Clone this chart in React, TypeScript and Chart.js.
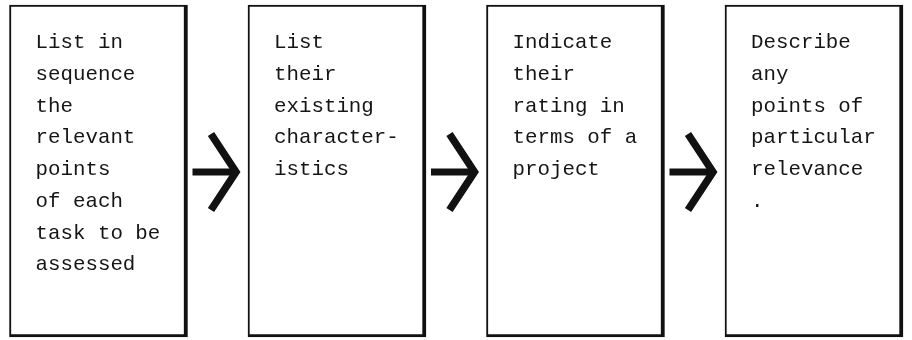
import React, { useEffect, useRef } from "react";
import { Chart, registerables } from "chart.js";

Chart.register(...registerables);

// ---- data ----
const stepIndex = [0, 1, 2, 3];
const boxValues = [1, 1, 1, 1];
const step1Lines = ["List in", "sequence", "the", "relevant", "points", "of each", "task to be", "assessed"];
const step2Lines = ["List", "their", "existing", "character-", "istics"];
const step3Lines = ["Indicate", "their", "rating in", "terms of a", "project"];
const step4Lines = ["Describe", "any", "points of", "particular", "relevance", "."];
const stepTexts = [step1Lines, step2Lines, step3Lines, step4Lines];

const flowPlugin = {
  id: "flowPlugin",
  afterDatasetsDraw(chart: any) {
    const ctx = chart.ctx as CanvasRenderingContext2D;
    const meta = chart.getDatasetMeta(0);
    const els = meta.data as any[];
    ctx.save();
    // arrows between boxes
    for (let i = 0; i < els.length - 1; i++) {
      const a = els[i];
      const b = els[i + 1];
      const r = a.x + a.width / 2;
      const l = b.x - b.width / 2;
      const top = Math.min(a.y, a.base);
      const bot = Math.max(a.y, a.base);
      const y = (top + bot) / 2 + 1;
      const tip = l - 12;
      ctx.strokeStyle = "#111";
      ctx.lineCap = "butt";
      ctx.lineWidth = 7;
      ctx.beginPath();
      ctx.moveTo(r + 5, y);
      ctx.lineTo(tip, y);
      ctx.stroke();
      ctx.lineWidth = 7.5;
      ctx.lineJoin = "miter";
      ctx.beginPath();
      ctx.moveTo(tip - 25, y - 38);
      ctx.lineTo(tip, y);
      ctx.lineTo(tip - 25, y + 38);
      ctx.stroke();
    }
    // texts
    ctx.fillStyle = "#151515";
    ctx.font = "20.8px 'Liberation Mono', 'Courier New', monospace";
    ctx.textBaseline = "alphabetic";
    ctx.textAlign = "left";
    els.forEach((el: any, i: number) => {
      const left = el.x - el.width / 2;
      const top = Math.min(el.y, el.base);
      const lines = stepTexts[i] || [];
      lines.forEach((t, j) => {
        ctx.fillText(t, left + 26, top + 43 + j * 31.75);
      });
    });
    ctx.restore();
  },
};

export default function App() {
  const ref = useRef<HTMLCanvasElement | null>(null);
  useEffect(() => {
    document.body.style.margin = "0";
    if (!ref.current) return;
    const chart = new Chart(ref.current, {
      type: "bar",
      data: {
        datasets: [
          {
            data: stepIndex.map((x, i) => ({ x, y: boxValues[i] })),
            backgroundColor: "#ffffff",
            borderColor: "#111111",
            borderWidth: { top: 2, right: 4, bottom: 3, left: 2 },
            borderSkipped: false,
            barThickness: 178,
            clip: false,
          } as any,
        ],
      },
      options: {
        animation: false,
        responsive: true,
        maintainAspectRatio: false,
        layout: { padding: { top: 5, bottom: 3, left: 0, right: 0 } },
        plugins: { legend: { display: false }, tooltip: { enabled: false } },
        scales: {
          x: { type: "linear", display: false, offset: false, min: -0.413, max: 3.411 },
          y: { display: false, min: 0, max: 1 },
        },
      },
      plugins: [flowPlugin],
    });
    return () => chart.destroy();
  }, []);
  return (
    <div style={{ position: "absolute", left: 0, top: 0, width: 912, height: 340, background: "#fff" }}>
      <canvas ref={ref} />
    </div>
  );
}
